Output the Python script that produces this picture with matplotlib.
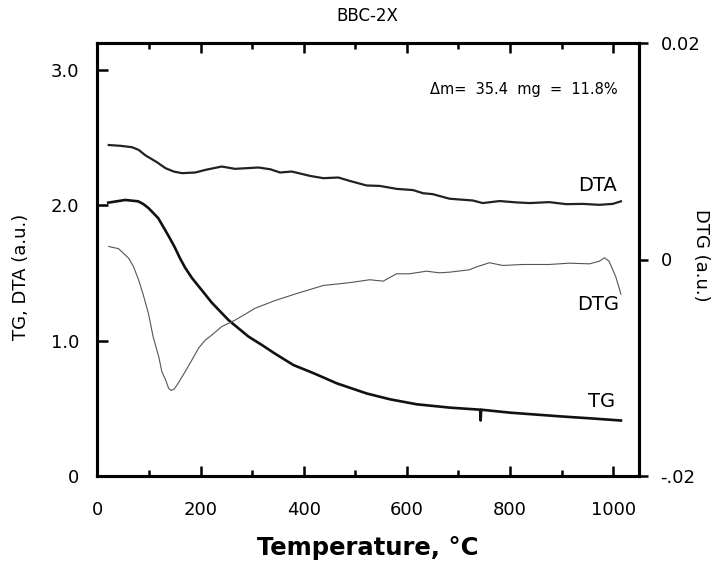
import matplotlib
matplotlib.use("Agg")
import matplotlib.pyplot as plt
from matplotlib.ticker import MultipleLocator, FixedLocator
from matplotlib import font_manager

# ---- data ----
tg_x = [21, 54, 79, 89, 99, 108, 118, 131, 140, 150, 160, 170, 183, 202, 222, 254,
        293, 319, 344, 380, 419, 464, 522, 567, 619, 684, 742, 743, 744, 800, 900,
        960, 1015]
tg_y = [2.02, 2.04, 2.03, 2.01, 1.98, 1.945, 1.905, 1.82, 1.76, 1.69, 1.61, 1.54,
        1.465, 1.375, 1.28, 1.153, 1.03, 0.968, 0.905, 0.82, 0.76, 0.685, 0.61, 0.567,
        0.53, 0.505, 0.49, 0.41, 0.49, 0.468, 0.44, 0.425, 0.41]

dta_x = [22, 45, 67, 80, 93, 115, 132, 148, 164, 190, 209, 241, 267, 290, 312, 335,
         354, 377, 412, 438, 467, 489, 522, 547, 580, 612, 631, 650, 683, 728, 747,
         780, 812, 838, 876, 909, 941, 973, 999, 1015]
dta_y = [2.446, 2.44, 2.43, 2.41, 2.37, 2.32, 2.275, 2.25, 2.238, 2.243, 2.262, 2.287,
         2.27, 2.275, 2.28, 2.267, 2.243, 2.25, 2.218, 2.201, 2.206, 2.181, 2.147,
         2.144, 2.122, 2.113, 2.09, 2.083, 2.049, 2.036, 2.017, 2.032, 2.022, 2.017,
         2.024, 2.009, 2.011, 2.004, 2.011, 2.03]

dtg_x = [22, 41, 61, 70, 80, 89, 99, 108, 119, 125, 132, 138, 143, 149, 157, 170,
         183, 196, 209, 222, 241, 267, 306, 344, 386, 438, 489, 528, 554, 580, 605,
         638, 663, 683, 721, 734, 760, 786, 825, 876, 915, 954, 973, 983, 992, 1005,
         1015]
dtg_y = [0.0012, 0.001, 0.0001, -0.00066, -0.0019, -0.00328, -0.005, -0.00713, -0.009,
         -0.01037, -0.0111, -0.0119, -0.0121, -0.01196, -0.0114, -0.01037, -0.0093,
         -0.0082, -0.00745, -0.00697, -0.0062, -0.0056, -0.0045, -0.0038, -0.00315,
         -0.0024, -0.00214, -0.00187, -0.002, -0.00132, -0.00132, -0.00108, -0.00123,
         -0.00117, -0.00095, -0.0007, -0.0003, -0.00055, -0.00046, -0.00046, -0.00034,
         -0.0004, -0.00016, 0.00016, -0.00016, -0.0016, -0.0032]

x_ticks = [0, 200, 400, 600, 800, 1000]
left_ticks = [0, 1.0, 2.0, 3.0]
left_labels = ["0", "1.0", "2.0", "3.0"]
right_ticks = [-0.02, 0, 0.02]
right_labels = ["-.02", "0", "0.02"]

plt.rcParams['font.family'] = ['DejaVu Sans']

names = {f.name for f in font_manager.fontManager.ttflist}
if 'Liberation Sans Narrow' in names:
    xl_family, xl_size = ['Liberation Sans Narrow', 'DejaVu Sans'], 24
else:
    xl_family, xl_size = ['DejaVu Sans'], 17.5

fig = plt.figure(figsize=(7.11, 5.65), dpi=100)
ax = fig.add_axes([97.4 / 711, 1 - 476 / 565, (639 - 97.4) / 711, (476 - 43) / 565])
ax2 = ax.twinx()

ax.plot(dta_x, dta_y, color="#222222", lw=1.6, zorder=3)
ax.plot(tg_x, tg_y, color="#111111", lw=1.9, zorder=3)
ax2.plot(dtg_x, dtg_y, color="#555555", lw=0.8, zorder=3)

ax.set_xlim(0, 1050)
ax.set_ylim(0, 3.2)
ax2.set_ylim(-0.02, 0.02)

ax.xaxis.set_major_locator(FixedLocator(x_ticks))
ax.set_xticklabels([str(v) for v in x_ticks])
ax.xaxis.set_minor_locator(MultipleLocator(100))
ax.yaxis.set_major_locator(FixedLocator(left_ticks))
ax.set_yticklabels(left_labels)
ax2.yaxis.set_major_locator(FixedLocator(right_ticks))
ax2.set_yticklabels(right_labels)

for a in (ax, ax2):
    for s in a.spines.values():
        s.set_linewidth(2.2)

ax.tick_params(axis='x', which='major', direction='in', length=7, width=1.8,
               top=True, labelsize=13, pad=18)
ax.tick_params(axis='x', which='minor', direction='in', length=4, width=1.8, top=True)
ax.tick_params(axis='y', which='major', direction='in', length=8, width=1.8,
               labelsize=13, pad=13, right=False)
ax2.tick_params(axis='y', which='major', direction='out', length=6.5, width=1.8,
                labelsize=13, pad=9)

ax.set_ylabel("TG, DTA (a.u.)", fontsize=13)
ax.yaxis.set_label_coords(-0.124, 0.46)
ax2.set_ylabel("DTG (a.u.)", fontsize=13, rotation=270)
ax2.yaxis.set_label_coords(1.131, 0.51)

fig.text(368 / 711, 1 - 548 / 565, "Temperature, °C", ha='center', va='center',
         fontsize=xl_size, fontweight='bold', family=xl_family)

fig.text(367 / 711, 1 - 16 / 565, "BBC-2X", ha='center', va='center', fontsize=12)

ax.text(969, 2.15, "DTA", ha='center', va='center', fontsize=14)
ax.text(971, 1.264, "DTG", ha='center', va='center', fontsize=14)
ax.text(978, 0.547, "TG", ha='center', va='center', fontsize=14)
ax.text(1008, 2.853, "Δm=  35.4  mg  =  11.8%", ha='right', va='center', fontsize=10.5)

fig.savefig("out.png", dpi=100)
